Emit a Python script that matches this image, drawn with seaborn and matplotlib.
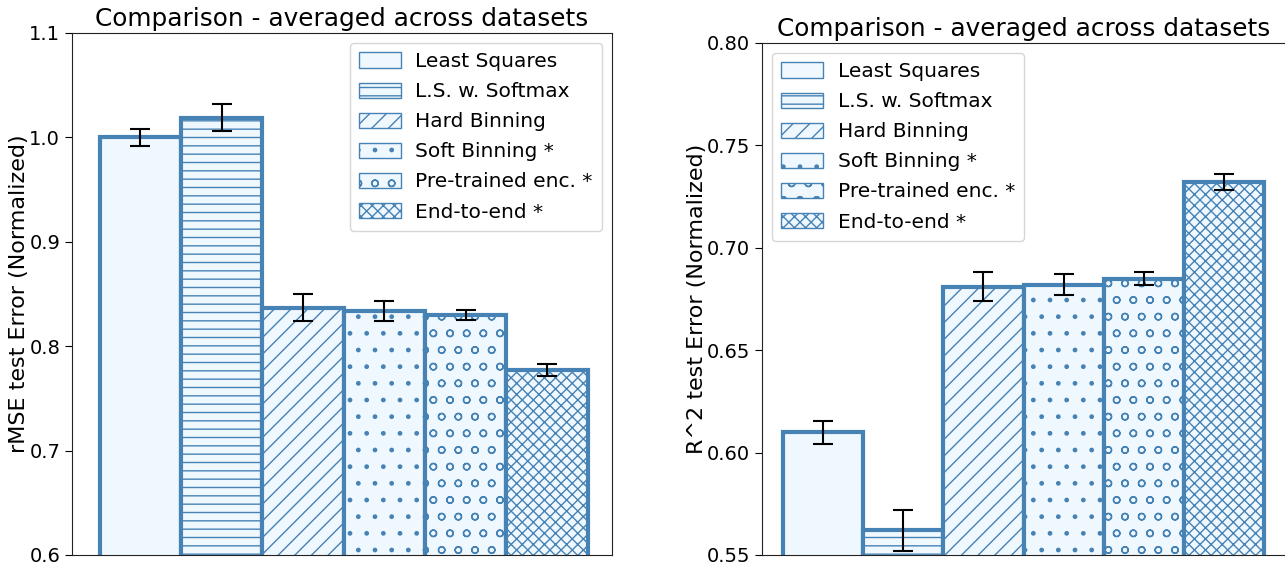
import numpy as np
import pandas as pd
import seaborn as sns
import matplotlib.pyplot as plt
from matplotlib.patches import Patch

methods = ["Least Squares", "L.S. w. Softmax", "Hard Binning",
           "Soft Binning *", "Pre-trained enc. *", "End-to-end *"]
hatches = ["", "--", "//", ".", "o", "xxx"]

rmse_mean = [1.000, 1.019, 0.837, 0.834, 0.830, 0.777]
rmse_err = [0.008, 0.013, 0.013, 0.0095, 0.005, 0.006]

r2_mean = [0.610, 0.562, 0.681, 0.682, 0.685, 0.732]
r2_err = [0.0056, 0.010, 0.007, 0.005, 0.003, 0.004]

sns.set_style("white")
plt.rcParams["font.family"] = ["DejaVu Sans"]
plt.rcParams["hatch.linewidth"] = 1.0
plt.rcParams["text.color"] = "black"
plt.rcParams["axes.labelcolor"] = "black"
plt.rcParams["xtick.color"] = "black"
plt.rcParams["ytick.color"] = "black"

fig = plt.figure(figsize=(12.85, 5.67), dpi=100)
W, H = 1285, 567
ax1 = fig.add_axes([72 / W, 1 - 555 / H, 540 / W, 522 / H])
ax2 = fig.add_axes([762 / W, 1 - 555 / H, 524 / W, 512 / H])


def draw(ax, means, errs, ylim, yticks, ylabel, legend_loc):
    df = pd.DataFrame({"method": methods, "value": means})
    sns.barplot(data=df, x="method", y="value", ax=ax, width=1.0,
                color="aliceblue", errorbar=None, saturation=1)
    for patch, h in zip(ax.patches, hatches):
        patch.set_facecolor("aliceblue")
        patch.set_edgecolor("steelblue")
        patch.set_linewidth(3)
        patch.set_hatch(h)
    ax.errorbar(np.arange(len(methods)), means, yerr=errs, fmt="none",
                ecolor="black", capsize=7, elinewidth=1.5, capthick=1.5)
    ax.set_ylim(*ylim)
    ax.set_yticks(yticks)
    ax.tick_params(axis="y", labelsize=14, left=True, length=5)
    ax.set_xticks([])
    ax.set_xlabel("")
    ax.set_ylabel(ylabel, fontsize=16, labelpad=0)
    ax.set_title("Comparison - averaged across datasets", fontsize=17.8, pad=5)
    for s in ax.spines.values():
        s.set_color("#222222")
    handles = [Patch(facecolor="aliceblue", edgecolor="steelblue",
                     linewidth=1, hatch=h) for h in hatches]
    ax.legend(handles, methods, loc=legend_loc, fontsize=14.5,
              handlelength=2.1, handleheight=0.8, labelspacing=0.55,
              handletextpad=0.7, borderpad=0.45, frameon=True)


draw(ax1, rmse_mean, rmse_err, (0.6, 1.1), [0.6, 0.7, 0.8, 0.9, 1.0, 1.1],
     "rMSE test Error (Normalized)", "upper right")
ax1.set_xlim(-0.84, 5.8)

draw(ax2, r2_mean, r2_err, (0.55, 0.80), [0.55, 0.60, 0.65, 0.70, 0.75, 0.80],
     "R^2 test Error (Normalized)", "upper left")
ax2.set_yticklabels(["0.55", "0.60", "0.65", "0.70", "0.75", "0.80"])
ax2.set_xlim(-0.76, 5.77)

fig.savefig("out.png", dpi=100)
